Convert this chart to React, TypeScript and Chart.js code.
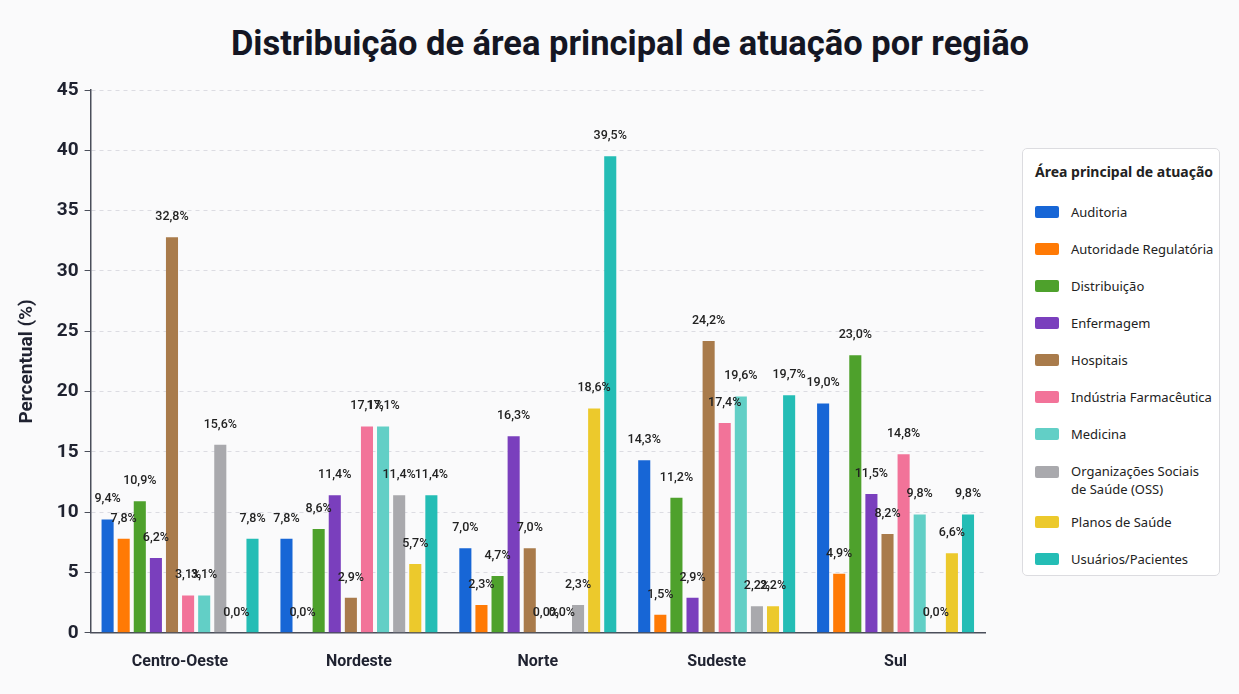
import React, { useEffect, useRef } from "react";
import { Chart, registerables } from "chart.js";

Chart.register(...registerables);

const regions = ["Centro-Oeste", "Nordeste", "Norte", "Sudeste", "Sul"];

const areas = [
  "Auditoria",
  "Autoridade Regulatória",
  "Distribuição",
  "Enfermagem",
  "Hospitais",
  "Indústria Farmacêutica",
  "Medicina",
  "Organizações Sociais de Saúde (OSS)",
  "Planos de Saúde",
  "Usuários/Pacientes",
];

const legendLines = [
  ["Auditoria"],
  ["Autoridade Regulatória"],
  ["Distribuição"],
  ["Enfermagem"],
  ["Hospitais"],
  ["Indústria Farmacêutica"],
  ["Medicina"],
  ["Organizações Sociais", "de Saúde (OSS)"],
  ["Planos de Saúde"],
  ["Usuários/Pacientes"],
];

const colors = [
  "#1766d6",
  "#ff7a05",
  "#4ea12c",
  "#7a3fbd",
  "#a97b4b",
  "#f27399",
  "#62cfc6",
  "#a9a9ad",
  "#ecc92c",
  "#24bdb5",
];

// values per area, order of regions
const auditoria = [9.4, 7.8, 7.0, 14.3, 19.0];
const autoridade = [7.8, 0.0, 2.3, 1.5, 4.9];
const distribuicao = [10.9, 8.6, 4.7, 11.2, 23.0];
const enfermagem = [6.2, 11.4, 16.3, 2.9, 11.5];
const hospitais = [32.8, 2.9, 7.0, 24.2, 8.2];
const industria = [3.1, 17.1, 0.0, 17.4, 14.8];
const medicina = [3.1, 17.1, 0.0, 19.6, 9.8];
const oss = [15.6, 11.4, 2.3, 2.2, 0.0];
const planos = [0.0, 5.7, 18.6, 2.2, 6.6];
const usuarios = [7.8, 11.4, 39.5, 19.7, 9.8];

const seriesValues = [
  auditoria,
  autoridade,
  distribuicao,
  enfermagem,
  hospitais,
  industria,
  medicina,
  oss,
  planos,
  usuarios,
];

const yTicks = [0, 5, 10, 15, 20, 25, 30, 35, 40, 45];

const fmt = (v: number) => v.toFixed(1).replace(".", ",") + "%";

const valueLabels = {
  id: "valueLabels",
  afterDatasetsDraw(chart: any) {
    const ctx = chart.ctx;
    ctx.save();
    ctx.font = "500 12.5px Roboto, 'Noto Sans', sans-serif";
    ctx.fillStyle = "#222";
    ctx.textAlign = "center";
    ctx.textBaseline = "bottom";
    chart.data.datasets.forEach((ds: any, i: number) => {
      const meta = chart.getDatasetMeta(i);
      meta.data.forEach((el: any, j: number) => {
        const v = ds.data[j];
        ctx.fillText(fmt(v), el.x, el.y - 14);
      });
    });
    ctx.restore();
  },
};

export default function App() {
  const ref = useRef<HTMLCanvasElement | null>(null);

  useEffect(() => {
    document.body.style.background = "#fafafb";
    if (!ref.current) return;
    const chart = new Chart(ref.current, {
      type: "bar",
      data: {
        labels: regions,
        datasets: areas.map((a, i) => ({
          label: a,
          data: seriesValues[i],
          backgroundColor: colors[i],
          borderWidth: 0,
          categoryPercentage: 0.9,
          barPercentage: 0.75,
        })),
      },
      options: {
        responsive: false,
        animation: false,
        layout: { padding: { top: 82, right: 246, bottom: 4, left: 4 } },
        plugins: {
          legend: { display: false },
          tooltip: { enabled: false },
          title: { display: false },
        },
        scales: {
          x: {
            grid: { display: false },
            border: { color: "#4a4e5a", width: 1.5 },
            ticks: {
              color: "#1f2230",
              font: { family: "Roboto", size: 16, weight: "bold" },
              padding: 12,
            },
          },
          y: {
            min: 0,
            max: 45,
            afterBuildTicks(axis: any) {
              axis.ticks = yTicks.map((v) => ({ value: v }));
            },
            grid: {
              color: "#dcdce2",
              tickColor: "#4a4e5a",
              tickLength: 6,
              tickBorderDash: [],
            },
            border: { color: "#4a4e5a", width: 1.5, dash: [4, 4] },
            ticks: {
              color: "#1f2230",
              font: { family: "Roboto", size: 19, weight: "bold" },
              padding: 6,
            },
            title: {
              display: true,
              text: "Percentual (%)",
              color: "#1f2230",
              font: { family: "Roboto", size: 19, weight: "bold" },
              padding: { bottom: 12 },
            },
          },
        },
      },
      plugins: [valueLabels],
    } as any);
    return () => chart.destroy();
  }, []);

  return (
    <div style={{ position: "relative", width: 1223, height: 680 }}>
      <div
        style={{
          position: "absolute",
          left: 0,
          width: 1244,
          top: 15,
          textAlign: "center",
          fontFamily: "Roboto, sans-serif",
          fontWeight: 700,
          fontSize: 34.5,
          color: "#141623",
        }}
      >
        Distribuição de área principal de atuação por região
      </div>
      <canvas ref={ref} width={1223} height={680} style={{ position: "absolute", left: 0, top: 0 }} />
      <div
        style={{
          position: "absolute",
          left: 1014,
          top: 140,
          width: 198,
          height: 428,
          boxSizing: "border-box",
          border: "1px solid #dcdce0",
          borderRadius: 5,
          background: "#ffffff",
          padding: "13px 0 0 12px",
          fontFamily: "'Noto Sans', sans-serif",
          color: "#222",
        }}
      >
        <div style={{ fontWeight: 700, fontSize: 14, marginBottom: 22 }}>Área principal de atuação</div>
        {legendLines.map((lines, i) => (
          <div
            key={i}
            style={{
              display: "flex",
              alignItems: lines.length > 1 ? "flex-start" : "center",
              marginBottom: lines.length > 1 ? 15 : 19,
            }}
          >
            <span
              style={{
                display: "inline-block",
                width: 24,
                height: 12,
                borderRadius: 2,
                background: colors[i],
                marginRight: 12,
                marginTop: lines.length > 1 ? 4 : 0,
                flexShrink: 0,
              }}
            />
            <span style={{ fontSize: 13, lineHeight: "18px" }}>
              {lines.map((l, k) => (
                <div key={k}>{l}</div>
              ))}
            </span>
          </div>
        ))}
      </div>
    </div>
  );
}
